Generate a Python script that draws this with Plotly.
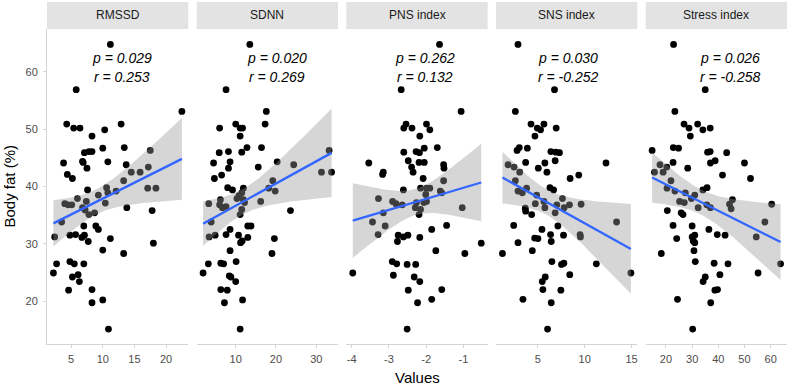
import numpy as np
import plotly.graph_objects as go
from plotly.subplots import make_subplots

panels = ["RMSSD", "SDNN", "PNS index", "SNS index", "Stress index"]
p_labels = ["p = 0.029", "p = 0.020", "p = 0.262", "p = 0.030", "p = 0.026"]
r_labels = ["r = 0.253", "r = 0.269", "r = 0.132", "r = -0.252", "r = -0.258"]
y_ticks = [20, 30, 40, 50, 60]
x_ticks = [[5, 10, 15, 20], [10, 20, 30], [-4, -3, -2, -1], [5, 10, 15], [20, 30, 40, 50, 60]]

rmssd_x = [11.2, 5.8, 22.5, 4.3, 5.4, 6.4, 12.9, 10.3, 8.3, 10.0, 13.4, 7.1, 7.8, 8.3, 6.8, 6.9, 10.8, 3.8,
           17.5, 13.7, 7.5, 17.2, 4.4, 14.5, 15.9, 5.2, 13.3, 17.1, 18.4, 10.6, 7.6, 12.1, 10.8, 9.3, 6.0,
           4.0, 4.5, 5.1, 7.4, 10.4, 6.8, 7.2, 7.8, 8.7, 13.8, 17.8, 3.5, 7.0, 8.9, 9.3, 2.4, 4.8, 5.7,
           7.1, 6.7, 11.2, 7.7, 18.0, 10.0, 13.3, 2.7, 4.8, 5.5, 7.0, 2.2, 5.2, 6.1, 6.3, 4.6, 8.3, 8.3,
           10.0, 10.9]
rmssd_y = [64.8, 56.9, 53.1, 50.9, 50.2, 50.2, 50.9, 49.9, 48.8, 46.7, 46.8, 45.9, 46.1, 46.1, 44.4, 44.2,
           44.3, 44.1, 46.3, 43.8, 43.2, 43.4, 42.1, 42.5, 42.5, 41.4, 41.0, 39.7, 39.7, 39.8, 39.4, 39.2,
           38.9, 38.5, 37.9, 37.0, 36.8, 36.8, 37.4, 37.1, 36.3, 35.9, 35.1, 35.4, 36.3, 35.8, 33.8, 33.1,
           33.1, 32.5, 31.2, 31.5, 31.6, 31.5, 31.1, 30.9, 30.4, 30.1, 28.9, 28.3, 26.5, 26.9, 26.5, 26.5,
           24.9, 24.2, 24.6, 23.4, 21.9, 22.0, 19.7, 20.2, 15.1]

sdnn_x = [13.5, 7.6, 17.6, 17.3, 6.0, 10.0, 11.1, 11.7, 11.1, 12.8, 16.4, 5.9, 11.5, 8.2, 4.5, 8.6, 8.2,
          15.6, 20.3, 24.4, 33.2, 31.3, 33.8, 4.7, 6.5, 8.0, 9.2, 11.9, 19.2, 18.2, 19.8, 11.5, 10.8, 10.3,
          3.3, 6.2, 6.0, 6.7, 7.6, 11.9, 12.2, 16.2, 11.5, 23.6, 11.1, 3.9, 8.6, 13.0, 13.8, 3.4, 4.9, 7.6,
          10.7, 13.0, 11.2, 11.6, 19.6, 8.6, 19.0, 3.2, 6.3, 7.0, 10.1, 1.9, 8.4, 8.8, 10.0, 6.3, 7.9, 7.2,
          11.7, 11.1]
sdnn_y = [64.8, 56.9, 53.1, 50.9, 50.2, 50.9, 50.2, 50.2, 48.8, 46.8, 46.8, 45.9, 46.0, 46.1, 44.1, 44.3,
          43.2, 43.4, 44.3, 43.8, 46.3, 42.5, 42.5, 41.4, 42.0, 39.8, 39.4, 39.7, 41.0, 39.7, 39.2, 38.9,
          38.4, 37.9, 37.0, 37.7, 36.8, 36.3, 36.5, 37.7, 37.2, 37.4, 36.0, 35.8, 35.1, 33.8, 32.5, 33.1,
          33.1, 31.2, 31.5, 31.6, 31.5, 31.1, 30.2, 30.5, 30.9, 28.8, 28.3, 26.5, 26.6, 26.5, 26.9, 24.9,
          24.4, 24.2, 23.4, 22.0, 21.9, 19.7, 20.2, 15.1]

pns_x = [-1.64, -2.67, -1.06, -2.60, -2.54, -2.38, -1.99, -1.90, -2.17, -2.60, -2.27, -2.18, -2.05, -1.70,
         -3.54, -2.48, -2.19, -2.05, -2.39, -1.53, -1.52, -3.15, -3.17, -2.35, -2.08, -1.53, -1.03, -2.61,
         -2.15, -1.99, -1.90, -1.62, -1.58, -2.01, -3.28, -2.90, -2.81, -2.64, -2.26, -2.06, -1.99, -2.29,
         -2.15, -3.15, -2.19, -3.44, -3.10, -1.45, -1.85, -3.29, -2.75, -2.61, -2.49, -2.17, -2.77, -0.52,
         -1.74, -0.96, -2.91, -2.79, -2.51, -2.28, -3.97, -2.88, -2.32, -2.17, -2.48, -1.58, -1.85, -2.23,
         -2.51]
pns_y = [64.8, 56.9, 53.1, 50.2, 50.9, 50.2, 50.9, 49.9, 48.8, 46.0, 46.1, 45.9, 46.7, 46.8, 44.1, 44.5,
         44.2, 44.2, 43.4, 43.8, 43.2, 42.5, 42.1, 42.5, 41.4, 41.0, 36.3, 39.4, 39.7, 39.7, 39.7, 39.2,
         38.9, 38.6, 37.9, 37.4, 37.0, 36.8, 37.2, 37.2, 37.4, 36.3, 36.0, 35.4, 35.1, 33.8, 33.1, 33.2,
         32.5, 31.6, 31.5, 31.2, 31.5, 31.1, 30.4, 30.1, 28.8, 28.3, 26.9, 26.5, 26.4, 26.4, 24.9, 24.5,
         24.2, 23.4, 21.9, 22.0, 20.3, 19.7, 15.1]

sns_x = [2.87, 6.77, 2.59, 4.26, 5.64, 4.93, 5.28, 6.95, 4.68, 2.77, 3.01, 3.87, 6.38, 6.91, 7.30, 3.69,
         5.74, 6.84, 12.27, 5.04, 5.96, 9.36, 8.44, 1.81, 2.45, 3.05, 2.59, 6.28, 6.67, 2.87, 3.33, 3.79,
         4.86, 7.62, 5.64, 4.72, 5.74, 7.02, 7.80, 8.37, 9.61, 3.65, 3.69, 4.33, 6.84, 13.40, 2.41, 7.13,
         5.43, 4.65, 5.00, 6.35, 7.73, 9.50, 9.54, 6.42, 2.87, 4.40, 1.21, 6.49, 7.52, 7.77, 11.24, 14.93,
         8.40, 5.78, 5.46, 5.53, 7.45, 3.40, 6.42, 6.03]
sns_y = [64.8, 56.9, 53.1, 50.9, 50.9, 50.2, 49.9, 50.2, 48.8, 46.3, 46.8, 46.7, 46.1, 46.0, 45.9, 44.2,
         44.1, 44.5, 44.1, 43.2, 42.5, 42.0, 41.4, 43.8, 43.4, 42.5, 41.0, 39.8, 39.4, 39.2, 38.9, 39.7,
         38.5, 37.9, 37.4, 37.0, 36.3, 36.8, 36.3, 36.8, 36.9, 36.2, 35.7, 35.1, 35.4, 33.8, 33.2, 33.1,
         32.5, 31.0, 30.9, 31.6, 31.5, 31.6, 31.2, 30.4, 30.2, 28.8, 28.3, 26.9, 26.4, 26.6, 26.5, 24.9,
         24.6, 24.2, 23.4, 22.0, 21.9, 20.3, 19.7, 15.1]

stress_x = [22.9, 35.0, 23.4, 26.9, 28.8, 32.1, 34.1, 36.9, 29.3, 14.7, 22.8, 24.8, 35.9, 36.9, 43.2, 22.7,
            37.0, 38.8, 50.0, 28.3, 41.6, 52.3, 17.7, 20.3, 15.6, 18.9, 21.9, 20.4, 23.4, 34.1, 35.7, 27.4,
            31.0, 29.7, 25.2, 27.0, 45.4, 44.3, 60.4, 32.3, 35.6, 37.0, 44.9, 20.5, 25.8, 26.5, 57.8, 54.5,
            22.7, 30.0, 36.4, 24.1, 30.0, 31.0, 39.6, 42.6, 30.4, 31.0, 30.7, 18.2, 31.2, 38.4, 43.7, 63.8,
            40.6, 55.2, 35.0, 34.2, 38.7, 39.7, 24.4, 37.1, 30.2]
stress_y = [64.8, 56.9, 53.1, 50.9, 50.2, 50.9, 49.9, 50.2, 48.8, 46.3, 46.8, 46.7, 46.0, 46.1, 45.9, 44.2,
            44.1, 44.5, 44.1, 43.2, 42.0, 41.4, 43.8, 43.4, 42.5, 42.5, 41.0, 39.7, 39.2, 39.4, 39.8, 38.9,
            38.5, 37.9, 37.4, 37.2, 37.7, 36.9, 36.9, 36.3, 36.8, 36.3, 36.1, 35.8, 35.4, 35.1, 33.8, 31.2,
            33.2, 33.1, 32.5, 30.9, 31.2, 31.5, 31.6, 31.5, 30.5, 30.2, 28.8, 28.3, 26.9, 26.6, 26.5, 26.5,
            24.6, 24.9, 24.2, 23.4, 21.9, 22.0, 20.3, 19.7, 15.1]

data_x = [rmssd_x, sdnn_x, pns_x, sns_x, stress_x]
data_y = [rmssd_y, sdnn_y, pns_y, sns_y, stress_y]

T_CRIT = 1.994  # 95% t quantile, df ~ 70

W, H = 789, 384
ML, MR, MT, MB = 47, 2, 29, 40
PW = W - ML - MR
PH = H - MT - MB
panel_w = 141.3
gap = (PW - 5 * panel_w) / 4

fig = make_subplots(rows=1, cols=5, shared_yaxes=True, horizontal_spacing=gap / PW)

grid_c = "#d4d4d4"
FONT = "Liberation Sans, Arial, sans-serif"
tick_font = dict(family=FONT, size=11, color="#4d4d4d")

for i in range(5):
    x = np.array(data_x[i], dtype=float)
    y = np.array(data_y[i], dtype=float)
    col = i + 1
    fig.add_trace(go.Scatter(x=x, y=y, mode="markers",
                             marker=dict(color="black", size=6.8, line=dict(width=0)),
                             showlegend=False, hoverinfo="skip"), row=1, col=col)
    n = len(x)
    b, a = np.polyfit(x, y, 1)
    xs = np.linspace(x.min(), x.max(), 80)
    yhat = a + b * xs
    resid = y - (a + b * x)
    s = np.sqrt(np.sum(resid ** 2) / (n - 2))
    sxx = np.sum((x - x.mean()) ** 2)
    se = s * np.sqrt(1.0 / n + (xs - x.mean()) ** 2 / sxx)
    lo, hi = yhat - T_CRIT * se, yhat + T_CRIT * se
    fig.add_trace(go.Scatter(x=np.concatenate([xs, xs[::-1]]), y=np.concatenate([hi, lo[::-1]]),
                             fill="toself", fillcolor="rgba(153,153,153,0.4)",
                             line=dict(width=0), mode="lines", showlegend=False, hoverinfo="skip"),
                  row=1, col=col)
    fig.add_trace(go.Scatter(x=xs, y=yhat, mode="lines", line=dict(color="#3366FF", width=2.3),
                             showlegend=False, hoverinfo="skip"), row=1, col=col)

    span = x.max() - x.min()
    x0 = ML + i * (panel_w + gap)
    dom = [(x0 - ML) / PW, (x0 + panel_w - ML) / PW]
    axname = "xaxis" if i == 0 else f"xaxis{i+1}"
    fig.layout[axname].update(
        domain=dom, range=[x.min() - 0.05 * span, x.max() + 0.05 * span],
        tickvals=x_ticks[i], ticktext=[str(v) for v in x_ticks[i]],
        showgrid=False, zeroline=False, showline=True, linecolor=grid_c, linewidth=1,
        ticks="outside", ticklen=3, tickcolor=grid_c, tickfont=tick_font, ticklabelstandoff=2)

    # strip
    fig.add_shape(type="rect", xref="paper", yref="paper", x0=dom[0], x1=dom[1],
                  y0=1.0, y1=1 + 27 / PH, fillcolor="#e3e3e3", line=dict(width=0), layer="below")
    fig.add_annotation(xref="paper", yref="paper", x=(dom[0] + dom[1]) / 2, y=1 + 13.5 / PH,
                       xanchor="center", yanchor="middle",
                       text=panels[i], showarrow=False,
                       font=dict(family=FONT, size=12, color="#1a1a1a"))

label_x = [0.53, 0.567, 0.56, 0.51, 0.60]
for i in range(5):
    xr = "x domain" if i == 0 else f"x{i+1} domain"
    yr = "y domain" if i == 0 else f"y{i+1} domain"
    fig.add_annotation(xref=xr, yref=yr, x=label_x[i], y=(H - MB - 58.3) / PH,
                       xanchor="center", yanchor="middle",
                       text=f"<i>{p_labels[i]}</i>", showarrow=False,
                       font=dict(family=FONT, size=14, color="black"))
    fig.add_annotation(xref=xr, yref=yr, x=label_x[i], y=(H - MB - 76.7) / PH,
                       xanchor="center", yanchor="middle",
                       text=f"<i>{r_labels[i]}</i>", showarrow=False,
                       font=dict(family=FONT, size=14, color="black"))

for i in range(5):
    yname = "yaxis" if i == 0 else f"yaxis{i+1}"
    fig.layout[yname].update(range=[12.5, 67.5], showgrid=False, zeroline=False)
fig.layout.yaxis.update(tickvals=y_ticks, showline=True, linecolor=grid_c, linewidth=1,
                        ticks="outside", ticklen=3, tickcolor=grid_c, tickfont=tick_font,
                        ticklabelstandoff=3)

fig.add_annotation(xref="paper", yref="paper", x=0.5, y=-33 / PH, xanchor="center", yanchor="middle",
                   text="Values", showarrow=False,
                   font=dict(family=FONT, size=15, color="black"))
fig.add_annotation(xref="paper", yref="paper", x=-(ML - 9) / PW, y=0.5, xanchor="center",
                   yanchor="middle", textangle=-90, text="Body fat (%)", showarrow=False,
                   font=dict(family=FONT, size=15, color="black"))

fig.update_layout(width=W, height=H, margin=dict(l=ML, r=MR, t=MT, b=MB),
                  plot_bgcolor="white", paper_bgcolor="white", showlegend=False)
fig.write_html("out.html", config={"displayModeBar": False},
               post_script="document.body.style.margin='0';")
